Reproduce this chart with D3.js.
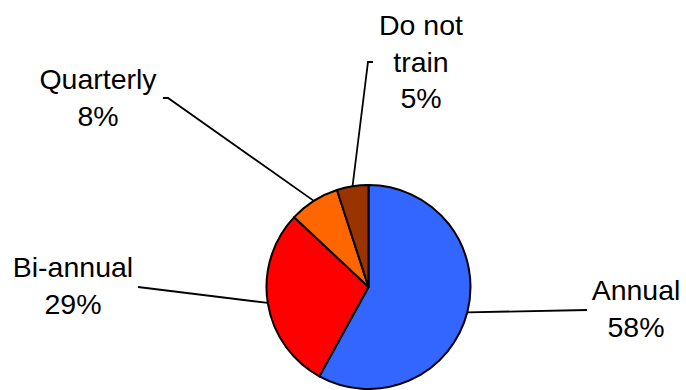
<!DOCTYPE html>
<html>
<head>
<meta charset="utf-8">
<script src="https://cdn.jsdelivr.net/npm/d3@7"></script>
<style>
  html, body { margin: 0; padding: 0; background: #fff; }
  svg text { font-family: "Liberation Sans", Arial, sans-serif; font-size: 28.5px; fill: #000; }
</style>
</head>
<body>
<svg id="chart" width="686" height="390"></svg>
<script>
// data
var categories = ['Annual', 'Bi-annual', 'Quarterly', 'Do not train'];
var values = [58, 29, 8, 5];
var labelLines = [['Annual', '58%'], ['Bi-annual', '29%'], ['Quarterly', '8%'], ['Do not', 'train', '5%']];
var colors = ['#3366FF', '#FF0000', '#FF6600', '#993300'];

// label layout: text centre x, first baseline y, leader end point, optional elbow
var labelPos = [
    { x: 636, y: 300, end: [587, 310] },
    { x: 73, y: 277, end: [138, 287] },
    { x: 98, y: 89, end: [168, 98], elbow: [163, 98] },
    { x: 421, y: 35, end: [368, 62], elbow: [373, 62] }
];

var cx = 368.5, cy = 287, radius = 102, lineGap = 36.5;

var svg = d3.select('#chart');
var root = svg.append('g').attr('transform', 'translate(' + cx + ',' + cy + ')');

var pie = d3.pie().sort(null).value(function(d) { return d; });
var arc = d3.arc().innerRadius(0).outerRadius(radius);
var arcs = pie(values);

root.selectAll('path.slice')
    .data(arcs)
    .enter().append('path')
    .attr('class', 'slice')
    .attr('d', arc)
    .attr('fill', function(d, i) { return colors[i]; })
    .attr('stroke', '#000')
    .attr('stroke-width', 2)
    .attr('stroke-linejoin', 'round');

// leader lines
arcs.forEach(function(d, i) {
    var mid = (d.startAngle + d.endAngle) / 2;
    var start = [cx + radius * Math.sin(mid), cy - radius * Math.cos(mid)];
    var pos = labelPos[i];
    var pts = [start, pos.end];
    if (pos.elbow) pts.push(pos.elbow);
    svg.append('path')
        .attr('d', d3.line()(pts))
        .attr('fill', 'none')
        .attr('stroke', '#000')
        .attr('stroke-width', 1.8);
});

// labels
labelLines.forEach(function(lines, i) {
    var pos = labelPos[i];
    var t = svg.append('text')
        .attr('text-anchor', 'middle')
        .attr('x', pos.x)
        .attr('y', pos.y);
    lines.forEach(function(line, j) {
        t.append('tspan')
            .attr('x', pos.x)
            .attr('y', pos.y + j * lineGap)
            .text(line);
    });
});
</script>
</body>
</html>
